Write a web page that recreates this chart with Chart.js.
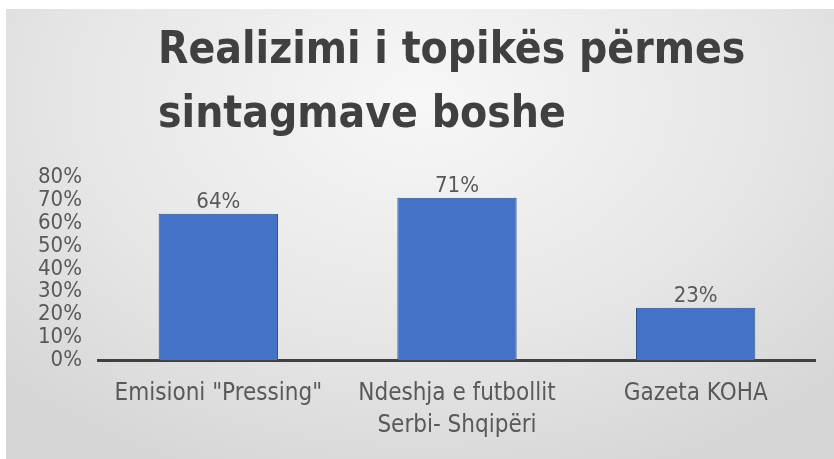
<!DOCTYPE html>
<html>
<head>
<meta charset="utf-8">
<script src="https://cdn.jsdelivr.net/npm/chart.js@4"></script>
<style>
    html, body { margin: 0; padding: 0; background: #fff; }
    #wrap { position: relative; width: 834px; height: 459px; overflow: hidden; }
    #bg {
        position: absolute; left: 6px; top: 9px; right: 0; bottom: 0;
        background: radial-gradient(ellipse 70% 90% at 50% 20%, #f7f7f7 0%, #e6e6e6 60%, #d6d6d6 100%);
    }
    canvas { position: absolute; left: 0; top: 0; }
</style>
</head>
<body>
<div id="wrap">
    <div id="bg"></div>
    <canvas id="chart" width="834" height="459"></canvas>
</div>
<script>
    const titleLines = ["Realizimi i topikës përmes", "sintagmave boshe"];
    const categories = [["Emisioni \"Pressing\""], ["Ndeshja e futbollit", "Serbi- Shqipëri"], ["Gazeta KOHA"]];
    const values = [0.64, 0.71, 0.23];
    const valueLabels = ["64%", "71%", "23%"];

    const fontFamily = "'DejaVu Sans Condensed', 'DejaVu Sans', sans-serif";
    const textGray = '#595959';

    // ========== Title (left aligned, drawn in the reserved top space) ==========
    const titleText = {
        id: 'titleText',
        afterDraw(chart) {
            const ctx = chart.ctx;
            ctx.save();
            ctx.font = 'bold 44px ' + fontFamily;
            ctx.fillStyle = '#404040';
            ctx.textAlign = 'left';
            ctx.textBaseline = 'alphabetic';
            ctx.fillText(titleLines[0], 158, 63);
            ctx.fillText(titleLines[1], 158, 127);
            ctx.restore();
        }
    };

    // ========== Data labels above bars ==========
    const barLabels = {
        id: 'barLabels',
        afterDatasetsDraw(chart) {
            const ctx = chart.ctx;
            const meta = chart.getDatasetMeta(0);
            ctx.save();
            ctx.font = '22px ' + fontFamily;
            ctx.fillStyle = textGray;
            ctx.textAlign = 'center';
            ctx.textBaseline = 'alphabetic';
            meta.data.forEach((bar, i) => {
                ctx.fillText(valueLabels[i], bar.x, bar.y - 6);
            });
            ctx.restore();
        }
    };

    new Chart(document.getElementById('chart'), {
        type: 'bar',
        data: {
            labels: categories,
            datasets: [{
                data: values,
                backgroundColor: '#4472C4',
                borderColor: '#2F528F',
                borderWidth: 1,
                barPercentage: 0.5,
                categoryPercentage: 1.0
            }]
        },
        options: {
            responsive: false,
            animation: false,
            layout: { padding: { left: 29, right: 19, top: 177, bottom: 8 } },
            plugins: {
                legend: { display: false },
                tooltip: { enabled: false },
                title: { display: false }
            },
            scales: {
                x: {
                    grid: { display: false },
                    border: { display: true, color: '#404040', width: 3 },
                    ticks: {
                        color: textGray,
                        font: { family: fontFamily, size: 24, lineHeight: 1.3 },
                        padding: 10,
                        maxRotation: 0,
                        autoSkip: false
                    }
                },
                y: {
                    min: 0,
                    max: 0.8,
                    grid: { display: false },
                    border: { display: false },
                    ticks: {
                        stepSize: 0.1,
                        autoSkip: false,
                        color: textGray,
                        font: { family: fontFamily, size: 22, lineHeight: 1 },
                        padding: 9,
                        callback: v => Math.round(v * 100) + '%'
                    }
                }
            }
        },
        plugins: [barLabels, titleText]
    });
</script>
</body>
</html>
